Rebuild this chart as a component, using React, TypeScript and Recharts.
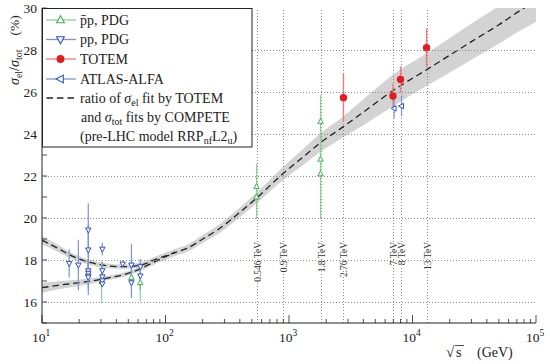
import React from 'react'
import { ComposedChart, Line, Area, Scatter, ErrorBar, XAxis, YAxis, ReferenceLine } from 'recharts'

const FONT = '"Liberation Serif", "DejaVu Serif", serif'
const INK = '#222'

// ratio of sigma_el (TOTEM fit) to sigma_tot (COMPETE fits)
const fitEnergy = [10, 13, 18, 25, 33, 45, 62, 85, 120, 150, 200, 276, 400, 546, 900, 1300, 1800, 2760, 4000, 7000, 13000, 20000, 30000, 50000, 70000, 100000]
const fitHigh = [18.95, 18.6, 18.16, 17.87, 17.73, 17.68, 17.75, 18.05, 18.36, 18.56, 19.0, 19.51, 20.27, 20.95, 22.13, 22.9, 23.59, 24.35, 25.04, 26.08, 27.06, 27.75, 28.4, 29.2, 29.78, 30.35]
const fitHighBand = [0.2, 0.17, 0.14, 0.12, 0.11, 0.1, 0.12, 0.14, 0.16, 0.17, 0.19, 0.21, 0.23, 0.25, 0.32, 0.38, 0.44, 0.5, 0.62, 0.75, 0.78, 0.82, 0.86, 0.9, 0.95, 1.0]
const fitLow = [16.68, 16.78, 16.89, 17.0, 17.13, 17.29, 17.57, 17.97, 18.36]
const fitLowBand = [0.24, 0.2, 0.16, 0.13, 0.11, 0.1, 0.11, 0.13, 0.16]

// pbar-p, PDG
const pbarpEnergy = [30.4, 53, 62.5, 546, 546, 1800, 1800, 1800]
const pbarpRatio = [16.97, 17.17, 16.92, 21.5, 21.0, 24.6, 22.8, 22.1]
const pbarpErr = [1.0, 1.0, 0.9, 1.1, 1.05, 1.25, 1.0, 2.15]

// pp, PDG
const ppEnergy = [16.6, 19.7, 23.7, 23.7, 23.7, 23.7, 23.7, 23.7, 30.8, 30.8, 30.8, 30.8, 30.8, 45, 53, 53, 62.5, 62.5]
const ppRatio = [17.84, 17.76, 19.43, 18.48, 17.49, 17.37, 17.24, 17.18, 18.52, 17.49, 17.2, 17.01, 16.86, 17.81, 17.76, 16.92, 17.68, 17.24]
const ppErr = [0.67, 1.2, 1.27, 1.2, 0.5, 0.45, 0.6, 0.85, 0.3, 0.4, 0.35, 0.3, 0.13, 0.15, 1.0, 0.7, 0.35, 0.65]

// TOTEM
const totemEnergy = [2760, 6950, 8000, 13000]
const totemRatio = [25.73, 25.81, 26.6, 28.11]
const totemErr = [1.15, 0.6, 0.62, 0.92]

// ATLAS-ALFA
const atlasEnergy = [7100, 8150]
const atlasRatio = [25.22, 25.33]
const atlasErr = [0.48, 0.48]

const energyMarks = [546, 900, 1800, 2760, 7000, 8000, 13000]
const energyMarkLabels = ['0.546 TeV', '0.9 TeV', '1.8 TeV', '2.76 TeV', '7 TeV', '8 TeV', '13 TeV']

const X_MIN = 10
const X_MAX = 100000
const xMajorTicks = [10, 100, 1000, 10000, 100000]
const xMinorTicks = [20, 30, 40, 50, 60, 70, 80, 90, 200, 300, 400, 500, 600, 700, 800, 900, 2000, 3000, 4000, 5000, 6000, 7000, 8000, 9000, 20000, 30000, 40000, 50000, 60000, 70000, 80000, 90000]
const yTicks = [15, 16, 17, 18, 19, 20, 21, 22, 23, 24, 25, 26, 27, 28, 29, 30]
const yLabelTicks = [16, 18, 20, 22, 24, 26, 28, 30]
const gridY = [16, 18, 20, 22, 24, 26, 28]

const CHART_W = 550
const CHART_H = 364
const MARGIN = { top: 8, right: 14, bottom: 0, left: 0 }
const Y_AXIS_W = 42
const PLOT_W = CHART_W - Y_AXIS_W - MARGIN.right

const GREEN = '#3cb04c'
const GREEN_ERR = '#8ad596'
const BLUE = '#3050bf'
const BLUE_ERR = '#7d93da'
const RED = '#e8191f'
const RED_ERR = '#f07a7e'
const GRID = '#8a8a8a'

const curveTable = fitEnergy.map((e, i) => ({
    e,
    high: fitHigh[i],
    highBand: [fitHigh[i] - fitHighBand[i], fitHigh[i] + fitHighBand[i]],
    low: i < fitLow.length ? fitLow[i] : null,
    lowBand: i < fitLow.length ? [fitLow[i] - fitLowBand[i], fitLow[i] + fitLowBand[i]] : null,
}))

const toPoints = (en: number[], r: number[], err: number[]) => en.map((e, i) => ({ e, v: r[i], err: err[i] }))
const pbarpData = toPoints(pbarpEnergy, pbarpRatio, pbarpErr)
const ppData = toPoints(ppEnergy, ppRatio, ppErr)
const totemData = toPoints(totemEnergy, totemRatio, totemErr)
const atlasData = toPoints(atlasEnergy, atlasRatio, atlasErr)

const triUp = (cx: number, cy: number, s: number) => `M${cx},${cy - s} L${cx + s * 0.9},${cy + s * 0.65} L${cx - s * 0.9},${cy + s * 0.65} Z`
const triDown = (cx: number, cy: number, s: number) => `M${cx},${cy + s} L${cx + s * 0.9},${cy - s * 0.65} L${cx - s * 0.9},${cy - s * 0.65} Z`
const triLeft = (cx: number, cy: number, s: number) => `M${cx - s},${cy} L${cx + s * 0.65},${cy - s * 0.9} L${cx + s * 0.65},${cy + s * 0.9} Z`

const snap = (v: number) => Math.round(v) + 0.5

// dotted vertical marker line, snapped to the pixel grid so it stays crisp
function DottedLine(props: any) {
    const { x1, y1, x2, y2 } = props
    return <line x1={snap(x1)} x2={snap(x2)} y1={y1} y2={y2} stroke={GRID} strokeWidth={1} strokeDasharray="1 2" />
}

function BottomTick(props: any) {
    const { x, y, payload } = props
    const major = xMajorTicks.includes(payload.value)
    return (
        <g>
            <line x1={x} x2={x} y1={y} y2={y - (major ? 8 : 4)} stroke={INK} strokeWidth={0.8} />
            {major && (
                <text x={x - 1} y={y + 19} textAnchor="middle" fontFamily={FONT} fontSize={13.5} fill={INK}>
                    10<tspan dy={-6} fontSize={9.5}>{Math.round(Math.log10(payload.value))}</tspan>
                </text>
            )}
        </g>
    )
}

function TopTick(props: any) {
    const { x, y, payload } = props
    const major = xMajorTicks.includes(payload.value)
    return <line x1={x} x2={x} y1={y} y2={y + (major ? 8 : 4)} stroke={INK} strokeWidth={0.8} />
}

// left tick: inward tick, label, and the dotted horizontal grid line at the tick's own position
function LeftTick(props: any) {
    const { x, y, payload } = props
    return (
        <g>
            {gridY.includes(payload.value) && (
                <line x1={x} x2={x + PLOT_W} y1={snap(y)} y2={snap(y)} stroke={GRID} strokeWidth={1} strokeDasharray="1 2" />
            )}
            <line x1={x} x2={x + 5} y1={y} y2={y} stroke={INK} strokeWidth={0.8} />
            {yLabelTicks.includes(payload.value) && (
                <text x={x - 5} y={y + 4.5} textAnchor="end" fontFamily={FONT} fontSize={13.5} fill={INK}>{payload.value}</text>
            )}
        </g>
    )
}

function RightTick(props: any) {
    const { x, y } = props
    return <line x1={x} x2={x - 5} y1={y} y2={y} stroke={INK} strokeWidth={0.8} />
}

function EnergyLabel(props: any) {
    const x = props.viewBox ? snap(props.viewBox.x) : 0
    return (
        <text x={x} y={242} transform={`rotate(-90 ${x} 242)`} textAnchor="end" dominantBaseline="central"
            fontFamily={FONT} fontSize={9.5} fill="#333" stroke="#fff" strokeWidth={2} paintOrder="stroke">
            {props.text}
        </text>
    )
}

const legendRows = [20, 39.5, 59, 79, 98, 117, 136]

export default function App() {
    return (
        <div style={{ position: 'absolute', left: 0, top: 0, width: CHART_W, height: CHART_H, background: '#fff' }}>
            <ComposedChart width={CHART_W} height={CHART_H} data={curveTable} margin={MARGIN}>
                <XAxis dataKey="e" type="number" scale="log" domain={[X_MIN, X_MAX]} allowDataOverflow
                    ticks={[...xMajorTicks, ...xMinorTicks]} interval={0} tickLine={false} tickSize={0} tickMargin={0}
                    height={41} tick={<BottomTick />} axisLine={{ stroke: INK }} />
                <XAxis xAxisId="top" orientation="top" dataKey="e" type="number" scale="log" domain={[X_MIN, X_MAX]} allowDataOverflow
                    ticks={[...xMajorTicks, ...xMinorTicks]} interval={0} tickLine={false} tickSize={0} tickMargin={0}
                    height={0} tick={<TopTick />} axisLine={{ stroke: INK }} />
                <YAxis type="number" domain={[15, 30]} allowDataOverflow ticks={yTicks} interval={0} width={Y_AXIS_W}
                    tickLine={false} tickSize={0} tickMargin={0} tick={<LeftTick />} axisLine={{ stroke: INK }} />
                <YAxis yAxisId="right" orientation="right" type="number" domain={[15, 30]} allowDataOverflow ticks={yTicks} interval={0} width={0}
                    tickLine={false} tickSize={0} tickMargin={0} tick={<RightTick />} axisLine={{ stroke: INK }} />

                <Area dataKey="highBand" type="monotone" fill="#d3d3d3" fillOpacity={1} stroke="none" isAnimationActive={false} />
                <Area dataKey="lowBand" type="monotone" fill="#d3d3d3" fillOpacity={1} stroke="none" isAnimationActive={false} />

                {energyMarks.map((e, i) => (
                    <ReferenceLine key={'ex' + e} x={e} shape={<DottedLine />}
                        label={<EnergyLabel text={energyMarkLabels[i]} />} />
                ))}

                <Line dataKey="high" type="monotone" stroke={INK} strokeWidth={1.3} strokeDasharray="6.5 4" dot={false} isAnimationActive={false} />
                <Line dataKey="low" type="monotone" stroke={INK} strokeWidth={1.3} strokeDasharray="6.5 4" dot={false} isAnimationActive={false} />

                <Scatter data={pbarpData} dataKey="v" isAnimationActive={false}
                    shape={(p: any) => <path d={triUp(p.cx, p.cy, 3)} fill="#fff" stroke={GREEN} strokeWidth={1} />}>
                    <ErrorBar dataKey="err" direction="y" width={0} stroke={GREEN_ERR} strokeWidth={1.2} />
                </Scatter>
                <Scatter data={ppData} dataKey="v" isAnimationActive={false}
                    shape={(p: any) => <path d={triDown(p.cx, p.cy, 3)} fill="#fff" stroke={BLUE} strokeWidth={1} />}>
                    <ErrorBar dataKey="err" direction="y" width={0} stroke={BLUE_ERR} strokeWidth={1.2} />
                </Scatter>
                <Scatter data={totemData} dataKey="v" isAnimationActive={false}
                    shape={(p: any) => <circle cx={p.cx} cy={p.cy} r={3.7} fill={RED} />}>
                    <ErrorBar dataKey="err" direction="y" width={0} stroke={RED_ERR} strokeWidth={1.4} />
                </Scatter>
                <Scatter data={atlasData} dataKey="v" isAnimationActive={false}
                    shape={(p: any) => <path d={triLeft(p.cx, p.cy, 3)} fill="#fff" stroke={BLUE} strokeWidth={1} />}>
                    <ErrorBar dataKey="err" direction="y" width={0} stroke={BLUE_ERR} strokeWidth={1.2} />
                </Scatter>
            </ComposedChart>

            <svg width={CHART_W} height={CHART_H} style={{ position: 'absolute', left: 0, top: 0, pointerEvents: 'none' }}
                fontFamily={FONT} fill={INK}>
                {/* axis titles */}
                <text x={18.5} y={85} transform="rotate(-90 18.5 85)" fontSize={14}>
                    <tspan fontStyle="italic">σ</tspan><tspan dy={3} fontSize={10}>el</tspan>
                    <tspan dy={-3}>/</tspan><tspan fontStyle="italic">σ</tspan><tspan dy={3} fontSize={10}>tot</tspan>
                    <tspan dy={-3} dx={14} fontSize={13.5}>(%)</tspan>
                </text>
                <text x={446} y={357} fontSize={15}>√</text>
                <line x1={455} x2={464} y1={345.5} y2={345.5} stroke={INK} strokeWidth={0.8} />
                <text x={456} y={357} fontSize={14}>s</text>
                <text x={477} y={357} fontSize={14}>(GeV)</text>

                {/* legend */}
                <rect x={42.5} y={8.5} width={209.5} height={138.5} fill="#fff" stroke={INK} strokeWidth={1} />
                <line x1={46} x2={76} y1={legendRows[0]} y2={legendRows[0]} stroke={GREEN_ERR} strokeWidth={1.3} />
                <path d={triUp(60.5, legendRows[0], 4.3)} fill="#fff" stroke={GREEN} strokeWidth={1.1} />
                <line x1={46} x2={76} y1={legendRows[1]} y2={legendRows[1]} stroke={BLUE_ERR} strokeWidth={1.3} />
                <path d={triDown(60.5, legendRows[1], 4.3)} fill="#fff" stroke={BLUE} strokeWidth={1.1} />
                <line x1={46} x2={76} y1={legendRows[2]} y2={legendRows[2]} stroke={RED_ERR} strokeWidth={1.3} />
                <circle cx={60.5} cy={legendRows[2]} r={3.9} fill={RED} />
                <line x1={46} x2={76} y1={legendRows[3]} y2={legendRows[3]} stroke={BLUE_ERR} strokeWidth={1.3} />
                <path d={triLeft(60.5, legendRows[3], 4.3)} fill="#fff" stroke={BLUE} strokeWidth={1.1} />
                <line x1={46.5} x2={76} y1={legendRows[4]} y2={legendRows[4]} stroke={INK} strokeWidth={1.3} strokeDasharray="6.5 4" />

                <g fontSize={14}>
                    <text x={80} y={legendRows[0] + 4.5}>p{'\u0304'}p, PDG</text>
                    <text x={80} y={legendRows[1] + 4.5}>pp, PDG</text>
                    <text x={80} y={legendRows[2] + 4.5}>TOTEM</text>
                    <text x={80} y={legendRows[3] + 4.5}>ATLAS-ALFA</text>
                    <text x={80} y={legendRows[4] + 4.5}>
                        ratio of <tspan fontStyle="italic">σ</tspan><tspan dy={3} fontSize={10}>el</tspan><tspan dy={-3}> fit by TOTEM</tspan>
                    </text>
                    <text x={81} y={legendRows[5] + 4.5}>
                        and <tspan fontStyle="italic">σ</tspan><tspan dy={3} fontSize={10}>tot</tspan><tspan dy={-3}> fits by COMPETE</tspan>
                    </text>
                    <text x={80} y={legendRows[6] + 4.5}>
                        (pre-LHC model RRP<tspan dy={3} fontSize={10}>nf</tspan><tspan dy={-3}>L2</tspan><tspan dy={3} fontSize={10}>u</tspan><tspan dy={-3}>)</tspan>
                    </text>
                </g>
            </svg>
        </div>
    )
}
